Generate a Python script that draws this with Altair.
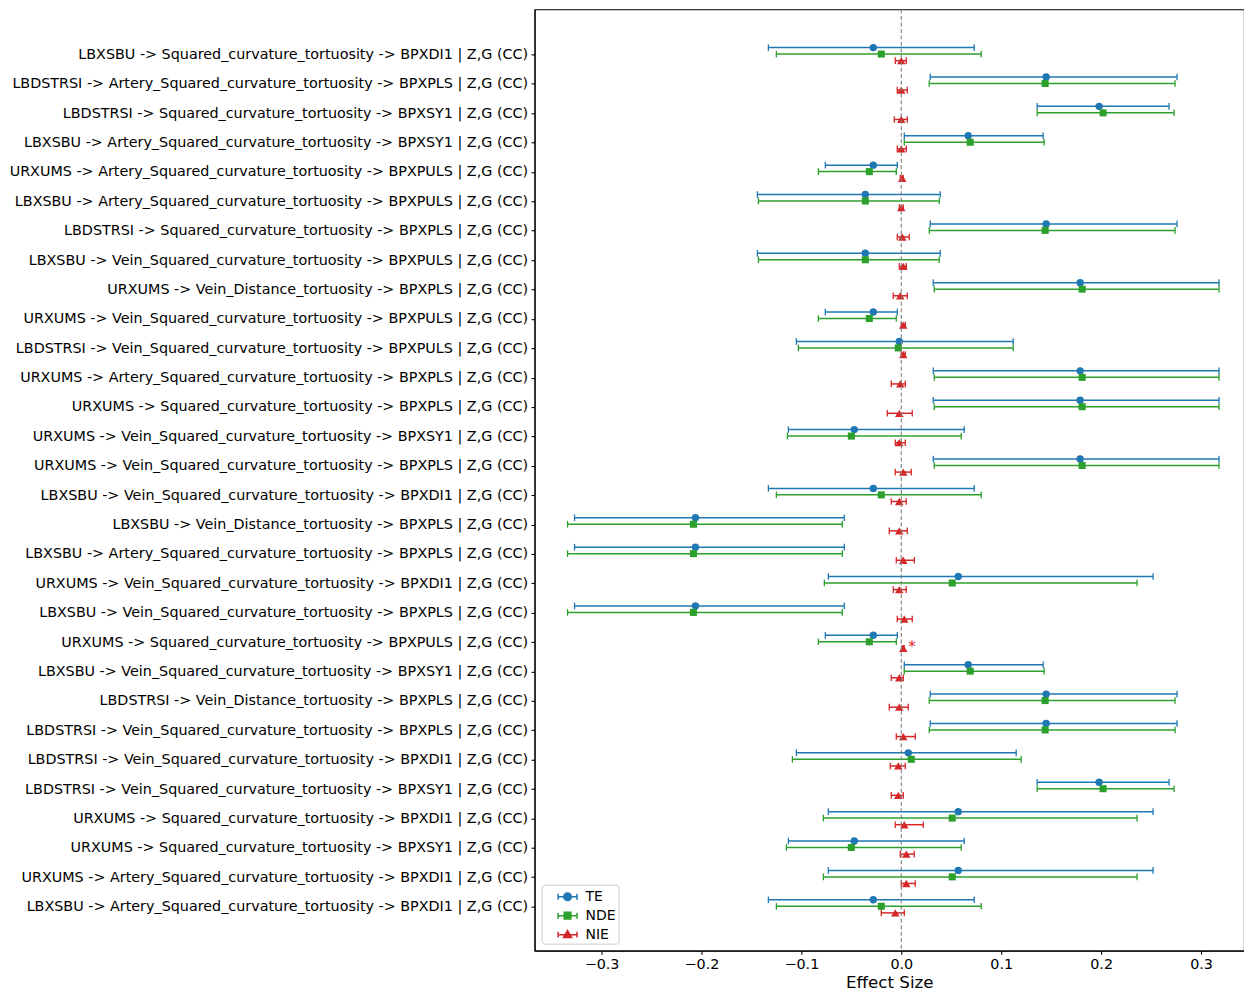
import json
import altair as alt
import pandas as pd

labels = [
    "LBXSBU -> Squared_curvature_tortuosity -> BPXDI1 | Z,G (CC)",
    "LBDSTRSI -> Artery_Squared_curvature_tortuosity -> BPXPLS | Z,G (CC)",
    "LBDSTRSI -> Squared_curvature_tortuosity -> BPXSY1 | Z,G (CC)",
    "LBXSBU -> Artery_Squared_curvature_tortuosity -> BPXSY1 | Z,G (CC)",
    "URXUMS -> Artery_Squared_curvature_tortuosity -> BPXPULS | Z,G (CC)",
    "LBXSBU -> Artery_Squared_curvature_tortuosity -> BPXPULS | Z,G (CC)",
    "LBDSTRSI -> Squared_curvature_tortuosity -> BPXPLS | Z,G (CC)",
    "LBXSBU -> Vein_Squared_curvature_tortuosity -> BPXPULS | Z,G (CC)",
    "URXUMS -> Vein_Distance_tortuosity -> BPXPLS | Z,G (CC)",
    "URXUMS -> Vein_Squared_curvature_tortuosity -> BPXPULS | Z,G (CC)",
    "LBDSTRSI -> Vein_Squared_curvature_tortuosity -> BPXPULS | Z,G (CC)",
    "URXUMS -> Artery_Squared_curvature_tortuosity -> BPXPLS | Z,G (CC)",
    "URXUMS -> Squared_curvature_tortuosity -> BPXPLS | Z,G (CC)",
    "URXUMS -> Vein_Squared_curvature_tortuosity -> BPXSY1 | Z,G (CC)",
    "URXUMS -> Vein_Squared_curvature_tortuosity -> BPXPLS | Z,G (CC)",
    "LBXSBU -> Vein_Squared_curvature_tortuosity -> BPXDI1 | Z,G (CC)",
    "LBXSBU -> Vein_Distance_tortuosity -> BPXPLS | Z,G (CC)",
    "LBXSBU -> Artery_Squared_curvature_tortuosity -> BPXPLS | Z,G (CC)",
    "URXUMS -> Vein_Squared_curvature_tortuosity -> BPXDI1 | Z,G (CC)",
    "LBXSBU -> Vein_Squared_curvature_tortuosity -> BPXPLS | Z,G (CC)",
    "URXUMS -> Squared_curvature_tortuosity -> BPXPULS | Z,G (CC)",
    "LBXSBU -> Vein_Squared_curvature_tortuosity -> BPXSY1 | Z,G (CC)",
    "LBDSTRSI -> Vein_Distance_tortuosity -> BPXPLS | Z,G (CC)",
    "LBDSTRSI -> Vein_Squared_curvature_tortuosity -> BPXPLS | Z,G (CC)",
    "LBDSTRSI -> Vein_Squared_curvature_tortuosity -> BPXDI1 | Z,G (CC)",
    "LBDSTRSI -> Vein_Squared_curvature_tortuosity -> BPXSY1 | Z,G (CC)",
    "URXUMS -> Squared_curvature_tortuosity -> BPXDI1 | Z,G (CC)",
    "URXUMS -> Squared_curvature_tortuosity -> BPXSY1 | Z,G (CC)",
    "URXUMS -> Artery_Squared_curvature_tortuosity -> BPXDI1 | Z,G (CC)",
    "LBXSBU -> Artery_Squared_curvature_tortuosity -> BPXDI1 | Z,G (CC)",
]

te_est = [-0.028, 0.145, 0.198, 0.067, -0.028, -0.036, 0.145, -0.036, 0.179, -0.028,
          -0.002, 0.179, 0.179, -0.047, 0.179, -0.028, -0.206, -0.206, 0.057, -0.206,
          -0.028, 0.067, 0.145, 0.145, 0.007, 0.198, 0.057, -0.047, 0.057, -0.028]
te_lo = [-0.133, 0.029, 0.136, 0.003, -0.076, -0.144, 0.029, -0.144, 0.032, -0.076,
         -0.105, 0.032, 0.032, -0.113, 0.032, -0.133, -0.327, -0.327, -0.073, -0.327,
         -0.076, 0.003, 0.029, 0.029, -0.105, 0.136, -0.073, -0.113, -0.073, -0.133]
te_hi = [0.073, 0.276, 0.268, 0.142, -0.004, 0.039, 0.276, 0.039, 0.318, -0.004,
         0.112, 0.318, 0.318, 0.063, 0.318, 0.073, -0.057, -0.057, 0.252, -0.057,
         -0.004, 0.142, 0.276, 0.276, 0.115, 0.268, 0.252, 0.063, 0.252, 0.073]

nde_est = [-0.020, 0.144, 0.202, 0.069, -0.032, -0.036, 0.144, -0.036, 0.181, -0.032,
           -0.003, 0.181, 0.181, -0.050, 0.181, -0.020, -0.208, -0.208, 0.051, -0.208,
           -0.032, 0.069, 0.144, 0.144, 0.010, 0.202, 0.051, -0.050, 0.051, -0.020]
nde_lo = [-0.125, 0.028, 0.136, 0.003, -0.083, -0.143, 0.028, -0.143, 0.033, -0.083,
          -0.103, 0.033, 0.033, -0.114, 0.033, -0.125, -0.334, -0.334, -0.077, -0.334,
          -0.083, 0.003, 0.028, 0.028, -0.109, 0.136, -0.078, -0.115, -0.078, -0.125]
nde_hi = [0.080, 0.274, 0.273, 0.143, -0.005, 0.038, 0.274, 0.038, 0.318, -0.005,
          0.112, 0.318, 0.318, 0.060, 0.318, 0.080, -0.059, -0.059, 0.236, -0.059,
          -0.005, 0.143, 0.274, 0.274, 0.120, 0.273, 0.236, 0.060, 0.236, 0.080]

nie_est = [0.000, 0.000, 0.000, 0.000, 0.001, 0.000, 0.001, 0.002, -0.001, 0.002,
           0.002, -0.001, -0.002, -0.002, 0.002, -0.002, -0.002, 0.002, -0.002, 0.003,
           0.002, -0.002, -0.002, 0.002, -0.003, -0.003, 0.003, 0.005, 0.005, -0.006]
nie_lo = [-0.006, -0.004, -0.007, -0.004, -0.001, -0.002, -0.004, -0.002, -0.008, 0.000,
          0.000, -0.010, -0.014, -0.006, -0.006, -0.010, -0.012, -0.005, -0.008, -0.004,
          0.001, -0.010, -0.012, -0.005, -0.011, -0.010, -0.006, -0.001, 0.000, -0.020]
nie_hi = [0.005, 0.006, 0.006, 0.005, 0.002, 0.002, 0.008, 0.005, 0.006, 0.004,
          0.004, 0.004, 0.011, 0.004, 0.010, 0.005, 0.006, 0.013, 0.005, 0.011,
          0.003, 0.002, 0.007, 0.014, 0.004, 0.002, 0.022, 0.013, 0.014, 0.003]

# significance flag for NIE (asterisk)
nie_sig = [False] * 30
nie_sig[20] = True

series = ["TE", "NDE", "NIE"]
colors = ["#1f77b4", "#2ca02c", "#d62728"]
shapes = ["circle", "square", "triangle-up"]
marker_sizes = [55, 50, 72]
offsets = {"TE": -0.23, "NDE": -0.01, "NIE": 0.215}

# legend glyphs: error bar with caps plus the series marker (unit path coords)
_bar = "M-1.05,0H1.05M-1.05,-0.33V0.33M1.05,-0.33V0.33"
legend_glyphs = [
    _bar + "M0.42,0A0.42,0.42,0,1,1,-0.42,0A0.42,0.42,0,1,1,0.42,0Z",
    _bar + "M-0.37,-0.37H0.37V0.37H-0.37Z",
    _bar + "M0,-0.45L0.45,0.33L-0.45,0.33Z",
]

records = []
for name, est, lo, hi in [("TE", te_est, te_lo, te_hi),
                          ("NDE", nde_est, nde_lo, nde_hi),
                          ("NIE", nie_est, nie_lo, nie_hi)]:
    for i in range(len(labels)):
        records.append({
            "row": i,
            "label": labels[i],
            "series": name,
            "est": est[i],
            "lo": lo[i],
            "hi": hi[i],
            "ypos": i + offsets[name],
            "sig": bool(nie_sig[i]) if name == "NIE" else False,
        })
df = pd.DataFrame(records)

label_expr = "[" + ",".join(json.dumps(l) for l in labels) + "][datum.value]"

x_scale = alt.Scale(domain=[-0.367, 0.343], nice=False, zero=False)
x_axis = alt.Axis(values=[-0.3, -0.2, -0.1, 0.0, 0.1, 0.2, 0.3], format=".1f",
                  title="Effect Size", grid=False, tickSize=3.5, labelPadding=3.5,
                  titlePadding=3)
y_scale = alt.Scale(domain=[-1.53, 30.50], reverse=True, nice=False, zero=False)
y_axis = alt.Axis(values=list(range(len(labels))), labelExpr=label_expr, title=None,
                  grid=False, tickSize=3.5, labelPadding=3.5, labelLimit=2000)

base = alt.Chart(df)
Y = alt.Y("ypos:Q", scale=y_scale, axis=y_axis)

layers = []
for name, color, shape, msize in zip(series, colors, shapes, marker_sizes):
    d = base.transform_filter(alt.datum.series == name)
    layers.append(d.mark_rule(color=color, strokeWidth=1.5).encode(
        x=alt.X("lo:Q", scale=x_scale, axis=x_axis), x2="hi:Q", y=Y))
    for end in ["lo", "hi"]:
        layers.append(d.mark_point(shape="M0,-1L0,1", size=44, filled=False,
                                   color=color, strokeWidth=1.3, opacity=1).encode(
            x=alt.X(f"{end}:Q", scale=x_scale, axis=x_axis), y=Y))
    layers.append(d.mark_point(shape=shape, size=msize, filled=True, color=color,
                               opacity=1).encode(
        x=alt.X("est:Q", scale=x_scale, axis=x_axis), y=Y))

legend = alt.Legend(
    title=None, orient="bottom-left", offset=7, padding=2,
    strokeColor="#cccccc", fillColor="white", cornerRadius=3,
    labelFontSize=14, labelFont="DejaVu Sans", labelColor="black",
    symbolSize=324, symbolOffset=14, labelOffset=8, rowPadding=2,
    symbolStrokeWidth=1.5,
)

# legend-only layer (draws no marks; its scales carry the legend)
legend_layer = base.transform_filter("false").mark_point(
    filled=True, opacity=1, strokeWidth=1.5
).encode(
    x=alt.X("est:Q", scale=x_scale, axis=x_axis),
    y=Y,
    fill=alt.Fill("series:N", scale=alt.Scale(domain=series, range=colors), legend=legend),
    stroke=alt.Stroke("series:N", scale=alt.Scale(domain=series, range=colors), legend=legend),
    shape=alt.Shape("series:N", scale=alt.Scale(domain=series, range=legend_glyphs),
                    legend=legend),
)

stars = base.transform_filter("datum.sig").mark_text(
    text="*", align="left", baseline="middle", dx=4, dy=-1, fontSize=15,
    font="DejaVu Sans", color="#d62728"
).encode(
    x=alt.X("hi:Q", scale=x_scale, axis=x_axis),
    y=Y,
)

zero_df = pd.DataFrame({"zero": [0.0]})
zero_line = alt.Chart(zero_df).mark_rule(color="#7f7f7f", strokeDash=[4, 2.5],
                                         strokeWidth=1.1).encode(
    x=alt.X("zero:Q", scale=x_scale, axis=x_axis)
)

chart = alt.layer(*layers, stars, zero_line, legend_layer).properties(
    width=710, height=942, padding=0,
).configure_axis(
    labelFont="DejaVu Sans", titleFont="DejaVu Sans", labelColor="black",
    titleColor="black", domainColor="black", tickColor="black",
    labelFontSize=14.36, titleFontSize=16.7, titleFontWeight="normal",
    domainWidth=1.1, tickWidth=1.1,
).configure_view(stroke="black", strokeWidth=1.1)

chart.save("out.html", embed_options={"renderer": "svg", "actions": False})
